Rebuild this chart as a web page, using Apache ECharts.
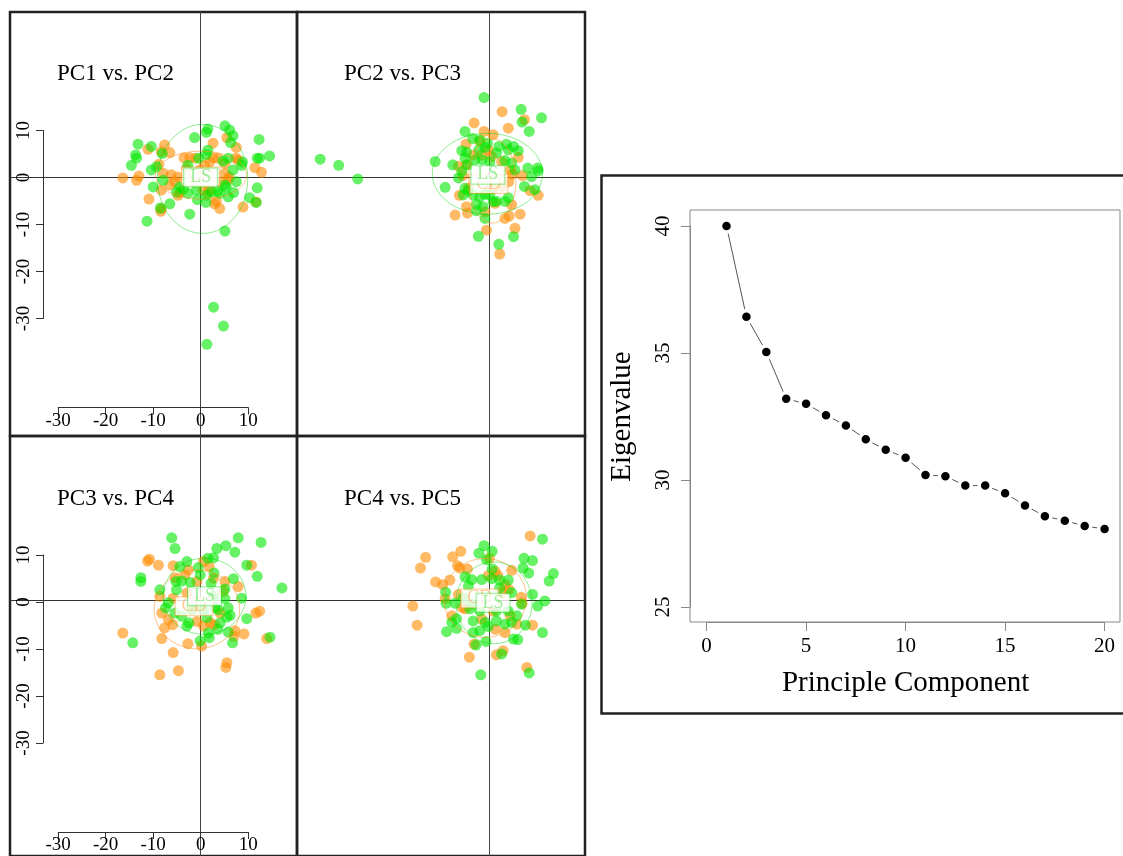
<!DOCTYPE html>
<html>
<head>
<meta charset="utf-8">
<script src="https://cdn.jsdelivr.net/npm/echarts@6/dist/echarts.min.js"></script>
<style>
html, body { margin: 0; padding: 0; background: #fff; }
#main { width: 1123px; height: 856px; }
</style>
</head>
<body>
<div id="main"></div>
<script>
// PCA scores per panel: CD group (orange) and LS group (green)
var cd1 = [[2.6,7.3],[5.5,8.5],[7.5,6.4],[-7.6,6.9],[-11.1,6.0],[-8.3,5.5],[-6.5,5.3],[-3.5,4.2],[-2.3,4.2],[-1.1,4.1],[2.6,4.2],[3.6,4.1],[5.1,3.0],[7.4,4.1],[7.9,3.7],[-8.8,2.8],[-16.4,-0.1],[-13.0,0.3],[-13.5,-0.6],[-7.9,0.9],[-6.2,0.6],[-4.8,0.1],[1.9,3.3],[0.8,2.6],[5.1,0.9],[6.0,0.1],[5.8,-0.4],[11.4,2.1],[12.8,1.1],[-6.5,-1.6],[-4.4,-3.2],[-4.8,-3.8],[-8.3,-2.7],[0.5,-2.7],[1.9,-2.5],[4.0,-0.9],[3.3,-5.1],[2.9,-5.6],[4.0,-6.6],[-10.9,-4.6],[-8.4,-7.2],[-8.3,-6.6],[8.9,-6.3],[1.5,-3.4],[-3.0,1.9],[-0.2,1.6],[-1.6,-0.9],[-5.5,-0.9],[11.6,-5.2]];
var ls1 = [[1.5,10.3],[1.2,9.6],[5.1,11.0],[6.1,10.1],[6.8,8.9],[6.3,7.4],[-1.3,8.5],[12.3,8.1],[-13.2,7.1],[-10.4,6.6],[-13.7,4.8],[-13.5,4.1],[-14.6,2.6],[-8.1,5.1],[1.5,5.8],[1.2,4.9],[-0.4,4.1],[4.7,3.5],[5.8,4.1],[8.8,3.3],[8.6,2.6],[11.9,4.1],[12.4,4.1],[14.5,4.6],[-10.4,1.6],[-9.3,2.3],[-2.7,2.6],[6.8,1.6],[-7.9,-0.6],[-10.0,-2.0],[7.5,-0.9],[-4.4,-2.0],[-5.1,-3.1],[5.4,-2.0],[5.1,-1.6],[-2.7,-3.4],[-0.9,-2.7],[3.6,-2.9],[4.0,-3.4],[2.2,-3.1],[6.9,-3.2],[5.8,-4.1],[11.9,-2.2],[-6.5,-5.6],[-0.7,-4.7],[1.1,-5.3],[10.3,-4.3],[11.7,-5.3],[-8.5,-6.5],[-2.3,-7.8],[-11.3,-9.3],[5.1,-11.4],[1.2,-3.8],[-3.6,-2.4],[2.7,-27.6],[4.8,-31.6],[1.3,-35.5]];

var cd2 = [[2.7,14.0],[7.4,12.3],[-3.2,11.6],[4.0,10.5],[-1.1,9.8],[0.8,9.1],[-4.9,7.1],[-2.0,7.7],[-0.2,5.9],[-3.4,4.8],[0.5,4.5],[6.1,4.3],[-6.5,2.4],[-4.8,2.7],[2.6,3.4],[4.4,1.6],[-5.6,0.4],[7.0,0.4],[4.9,0.7],[4.1,-0.9],[-6.3,-3.8],[-4.4,-2.3],[8.6,-2.8],[10.3,-3.8],[4.7,-5.8],[-4.8,-6.2],[-7.2,-8.0],[-4.6,-7.6],[-0.9,-7.3],[1.2,-5.5],[3.3,-8.7],[4.2,-8.2],[6.5,-7.8],[5.4,-10.8],[-0.6,-11.2],[2.2,-16.3],[0.8,-2.3],[2.6,-1.9],[-1.6,4.8]];
var ls2 = [[-1.1,17.0],[6.7,14.5],[6.9,11.8],[11.0,12.7],[8.4,9.8],[-5.1,9.8],[-3.5,8.3],[-2.0,8.0],[-0.4,7.3],[-0.9,6.4],[-2.2,5.9],[-5.8,5.7],[-4.8,5.4],[2.0,6.6],[3.6,7.1],[5.1,6.6],[6.1,5.7],[4.0,5.9],[1.5,5.2],[-5.1,4.1],[-3.0,3.8],[-1.5,3.8],[0.1,3.4],[3.3,3.6],[4.7,3.1],[-11.4,3.4],[-7.7,2.7],[-4.6,2.7],[-5.8,1.3],[-6.5,-0.1],[5.4,1.6],[8.1,2.0],[10.2,2.0],[10.3,1.4],[8.9,0.2],[-9.3,-2.1],[7.4,-1.9],[9.6,-2.6],[-5.1,-2.3],[-4.4,-2.8],[-3.4,-3.7],[-2.0,-4.1],[-0.9,-3.6],[0.1,-3.7],[1.5,-5.1],[4.0,-4.3],[3.3,-5.1],[-2.7,-5.7],[-1.3,-6.2],[-2.7,-7.1],[-0.9,-8.7],[0.8,-5.1],[-2.3,-12.5],[5.1,-12.6],[2.0,-14.2],[-5.5,-3.7],[-35.6,3.9],[-31.7,2.6],[-27.7,-0.3]];

var cd3 = [[-10.8,8.8],[-11.2,8.4],[-8.9,7.5],[-5.8,7.4],[-2.6,6.5],[0.6,8.3],[1.8,7.2],[10.7,7.5],[2.7,4.7],[5.1,4.0],[-5.4,4.8],[-8.6,0.8],[-5.8,0.4],[-2.9,1.5],[-0.8,4.0],[4.8,1.9],[7.9,2.9],[-8.2,-2.8],[-6.8,-4.2],[-7.6,-6.0],[-5.9,-5.3],[-0.8,-4.6],[0.6,-5.6],[-1.9,-1.6],[7.2,-6.6],[7.0,-7.8],[9.1,-7.3],[11.6,-2.8],[12.4,-2.4],[13.9,-8.3],[-16.4,-7.1],[-8.2,-8.3],[-2.7,-9.4],[0.2,-9.9],[-5.8,-11.3],[-4.7,-15.2],[-8.6,-16.1],[5.5,-13.5],[5.3,-14.5],[2.8,-5.3],[4.1,-2.8],[-0.5,-1.4],[-3.3,5.4],[2.0,-4.9]];
var ls3 = [[-6.1,13.4],[-5.4,11.1],[7.9,13.4],[5.3,11.7],[3.4,11.1],[7.2,10.3],[12.7,12.4],[1.5,9.0],[2.7,9.1],[-2.9,8.3],[-0.5,7.0],[9.7,7.5],[11.9,5.1],[-12.6,4.8],[-12.6,4.0],[-4.4,7.2],[2.8,5.8],[-0.1,5.4],[-4.0,4.1],[-2.2,3.8],[-5.2,4.0],[-8.6,2.2],[-5.1,2.2],[2.2,3.6],[6.9,4.6],[5.1,2.4],[17.1,2.6],[8.6,0.4],[-6.8,-0.6],[-7.4,-1.7],[-5.4,-2.8],[-4.0,-3.5],[-1.9,-2.1],[0.6,-2.1],[3.0,-1.6],[3.7,-2.1],[5.8,-1.7],[6.2,-3.3],[5.5,-3.7],[1.3,-3.8],[-2.5,-4.9],[-2.9,-5.6],[4.1,-4.9],[3.6,-6.3],[1.6,-7.1],[1.8,-8.1],[-0.1,-8.8],[5.8,-6.9],[6.7,-9.2],[9.7,-4.0],[14.6,-8.0],[-14.3,-9.2],[2.7,0.8],[5.1,0.3]];

var cd4 = [[8.6,13.8],[-6.0,10.5],[-7.7,9.3],[-13.4,9.2],[-14.5,6.9],[-6.7,7.4],[-4.6,6.7],[-6.2,6.9],[0.0,9.0],[1.2,6.2],[4.7,6.4],[1.8,5.3],[-11.3,3.9],[-9.8,3.3],[-8.3,4.3],[-0.2,5.3],[3.3,3.3],[4.1,2.3],[6.7,0.6],[-9.3,0.3],[-5.1,-1.9],[-16.1,-1.3],[-15.2,-5.4],[-6.5,1.2],[4.4,-3.4],[5.8,-5.2],[9.1,-5.4],[1.3,-6.3],[0.8,-2.4],[-1.6,-4.1],[-5.7,-1.6],[-3.2,-9.5],[1.5,-11.8],[2.9,-10.9],[-4.2,-12.3],[7.9,-14.5],[3.3,-7.0],[6.9,-0.7],[-7.9,-3.4],[2.6,1.6]];
var ls4 = [[11.2,13.1],[-1.1,11.7],[0.6,10.5],[-2.2,10.1],[-0.6,8.7],[7.3,9.0],[9.1,8.5],[7.1,6.9],[8.3,5.8],[13.5,5.7],[12.6,4.1],[-5.1,5.0],[-3.7,4.4],[-1.6,4.4],[0.5,4.6],[2.2,4.3],[4.0,4.3],[-4.4,3.0],[-9.2,1.7],[-5.5,0.5],[-9.1,-0.7],[-7.2,-0.7],[2.2,2.6],[4.7,1.6],[9.1,1.2],[11.7,-0.2],[10.2,-1.3],[6.8,-0.9],[-4.1,-1.9],[-2.0,-2.4],[1.5,-2.4],[4.0,-2.4],[5.8,-3.4],[-6.9,-4.0],[-7.9,-4.8],[-9.0,-6.8],[-6.9,-6.1],[-3.4,-4.5],[-0.9,-4.8],[1.5,-4.5],[3.3,-5.2],[4.7,-4.8],[-2.0,-6.6],[-0.2,-5.7],[-3.4,-7.0],[-2.8,-9.7],[-0.7,-8.9],[5.1,-8.4],[6.0,-8.5],[7.6,-5.4],[11.2,-7.0],[2.6,-11.6],[-1.8,-16.1],[8.4,-15.7],[-3.7,-0.9],[0.6,6.7]];

var panelTitles = ['PC1 vs. PC2', 'PC2 vs. PC3', 'PC3 vs. PC4', 'PC4 vs. PC5'];
var cdScores = [cd1, cd2, cd3, cd4];
var lsScores = [ls1, ls2, ls3, ls4];
// group ellipses: [centre x, centre y, radius x, radius y]
var cdEllipse = [[0.1, 0.5, 9.6, 5.1], [0.6, -0.7, 5.0, 9.0], [-0.8, -2.0, 9.0, 8.5], [-0.9, 0.45, 8.7, 8.5]];
var lsEllipse = [[0.4, -0.3, 9.5, 11.6], [-0.4, 0.8, 11.6, 8.6], [0.8, 0.8, 8.7, 8.2], [1.0, -0.6, 8.0, 8.8]];
var cdLabelAt = [[0, 0.2], [-0.1, -1.4], [-1.4, -1.35], [-2.0, 0.35]];
var lsLabelAt = [[0, 0], [-0.3, 0.6], [0.8, 0.8], [0.8, -0.6]];

// scree plot
var componentNo = [1,2,3,4,5,6,7,8,9,10,11,12,13,14,15,16,17,18,19,20];
var eigenvalues = [40.0,36.43,35.04,33.2,33.0,32.55,32.15,31.6,31.19,30.88,30.2,30.15,29.78,29.78,29.48,29.0,28.57,28.4,28.19,28.07];

var FONT = 'Liberation Serif';
var ORANGE = 'rgba(255,140,0,0.6)';
var GREEN = 'rgba(0,232,0,0.6)';
var ORANGE_LINE = 'rgba(255,150,40,0.55)';
var GREEN_LINE = 'rgba(0,215,0,0.45)';

var sx = 4.75, sy = 4.7;   // pixels per score unit
var panels = [
    { box: [10, 12, 297, 436],  o: [200.7, 177.5] },
    { box: [297, 12, 585, 436], o: [489.3, 177.5] },
    { box: [10, 436, 297, 861], o: [200.7, 602] },
    { box: [297, 436, 585, 861], o: [489.3, 602] }
];

function ellipsePoints(e) {
    var pts = [];
    for (var k = 0; k <= 90; k++) {
        var t = k / 90 * 2 * Math.PI;
        pts.push([e[0] + e[2] * Math.cos(t), e[1] + e[3] * Math.sin(t)]);
    }
    return pts;
}

function groupLabel(txt, col, at, idx) {
    return {
        type: 'scatter', xAxisIndex: idx, yAxisIndex: idx, z: 10,
        symbolSize: 1, itemStyle: { color: 'rgba(0,0,0,0)' },
        data: [at],
        label: {
            show: true, position: 'inside', formatter: txt,
            fontFamily: FONT, fontSize: 18, lineHeight: 17, color: col,
            backgroundColor: '#fff', borderColor: col, borderWidth: 1,
            padding: [1, 6, 0, 6]
        }
    };
}

var grids = [], xAxes = [], yAxes = [], series = [], titles = [];

panels.forEach(function (p, i) {
    var b = p.box, o = p.o;
    grids.push({ left: b[0], top: b[1], width: b[2] - b[0], height: b[3] - b[1],
        show: true, borderColor: '#222', borderWidth: 2.5, backgroundColor: 'transparent' });
    xAxes.push({ gridIndex: i, type: 'value', min: (b[0] - o[0]) / sx, max: (b[2] - o[0]) / sx,
        axisLine: { onZero: true, lineStyle: { color: '#333', width: 1 } },
        axisTick: { show: false }, axisLabel: { show: false }, splitLine: { show: false } });
    yAxes.push({ gridIndex: i, type: 'value', min: (o[1] - b[3]) / sy, max: (o[1] - b[1]) / sy,
        axisLine: { onZero: true, lineStyle: { color: '#444', width: 1 } },
        axisTick: { show: false }, axisLabel: { show: false }, splitLine: { show: false } });

    series.push({ type: 'scatter', xAxisIndex: i, yAxisIndex: i, symbolSize: 11,
        itemStyle: { color: ORANGE, opacity: 1 }, data: cdScores[i] });
    series.push({ type: 'scatter', xAxisIndex: i, yAxisIndex: i, symbolSize: 11,
        itemStyle: { color: GREEN, opacity: 1 }, data: lsScores[i] });
    series.push({ type: 'line', xAxisIndex: i, yAxisIndex: i, showSymbol: false, z: 5,
        lineStyle: { color: ORANGE_LINE, width: 1 }, data: ellipsePoints(cdEllipse[i]) });
    series.push({ type: 'line', xAxisIndex: i, yAxisIndex: i, showSymbol: false, z: 5,
        lineStyle: { color: GREEN_LINE, width: 1 }, data: ellipsePoints(lsEllipse[i]) });
    series.push(groupLabel('CD', 'rgba(255,150,40,0.6)', cdLabelAt[i], i));
    series.push(groupLabel('LS', 'rgba(0,215,0,0.5)', lsLabelAt[i], i));

    titles.push({ text: panelTitles[i], left: b[0] + 47, top: o[1] - 115, padding: 0,
        textStyle: { fontFamily: FONT, fontSize: 23, fontWeight: 'normal', color: '#000' } });
});

// R-style score axes on the left-hand panels
[0, 2].forEach(function (pi) {
    var o = panels[pi].o;
    var gi = grids.length;
    grids.push({ left: o[0] - 30 * sx, top: o[1] - 10 * sy, width: 40 * sx, height: 40 * sy });
    xAxes.push({ gridIndex: gi, type: 'value', min: -30, max: 10, interval: 10, position: 'bottom',
        offset: 89,
        axisLine: { onZero: false, lineStyle: { color: '#333', width: 1 } },
        axisTick: { length: 7, lineStyle: { color: '#333' } },
        axisLabel: { fontFamily: FONT, fontSize: 19, color: '#000', margin: 4 },
        splitLine: { show: false } });
    yAxes.push({ gridIndex: gi, type: 'value', min: -30, max: 10, interval: 10, position: 'left',
        offset: o[0] - 30 * sx - 43,
        axisLine: { onZero: false, lineStyle: { color: '#333', width: 1 } },
        axisTick: { length: 7, lineStyle: { color: '#333' } },
        axisLabel: { fontFamily: FONT, fontSize: 19, color: '#000', rotate: 90, margin: 9 },
        splitLine: { show: false } });
});

// scree plot box
var boxIdx = grids.length;
grids.push({ left: 690, top: 210, width: 430, height: 412, show: true,
    borderColor: '#888', borderWidth: 1, backgroundColor: 'transparent' });
xAxes.push({ gridIndex: boxIdx, type: 'value', min: -0.8, max: 20.8, show: false });
yAxes.push({ gridIndex: boxIdx, type: 'value', min: 24.4, max: 40.6, show: false });

var scrIdx = grids.length;
grids.push({ left: 706.6, top: 226, width: 398, height: 381 });
xAxes.push({ gridIndex: scrIdx, type: 'value', min: 0, max: 20, interval: 5, offset: 15,
    name: 'Principle Component', nameLocation: 'middle', nameGap: 47,
    nameTextStyle: { fontFamily: FONT, fontSize: 29, color: '#000' },
    axisLine: { onZero: false, lineStyle: { color: '#888', width: 1 } },
    axisTick: { length: 9, lineStyle: { color: '#888' } },
    axisLabel: { fontFamily: FONT, fontSize: 21, color: '#000', margin: 14 },
    splitLine: { show: false } });
yAxes.push({ gridIndex: scrIdx, type: 'value', min: 25, max: 40, interval: 5, offset: 16.6,
    name: 'Eigenvalue', nameLocation: 'middle', nameGap: 53, nameRotate: 90,
    nameTextStyle: { fontFamily: FONT, fontSize: 29, color: '#000' },
    axisLine: { onZero: false, lineStyle: { color: '#888', width: 1 } },
    axisTick: { length: 9, lineStyle: { color: '#888' } },
    axisLabel: { fontFamily: FONT, fontSize: 21, color: '#000', rotate: 90, margin: 16 },
    splitLine: { show: false } });

series.push({
    type: 'line', xAxisIndex: scrIdx, yAxisIndex: scrIdx,
    symbol: 'circle', symbolSize: 12,
    itemStyle: { color: '#000', borderColor: '#fff', borderWidth: 3.5 },
    lineStyle: { color: '#555', width: 1 },
    data: componentNo.map(function (c, k) { return [c, eigenvalues[k]]; })
});

var myChart = echarts.init(document.getElementById('main'));
myChart.setOption({
    animation: false,
    backgroundColor: '#fff',
    title: titles,
    grid: grids,
    xAxis: xAxes,
    yAxis: yAxes,
    series: series,
    graphic: [{
        type: 'rect', left: 599, top: 173, z: 100,
        shape: { width: 540, height: 538 },
        style: { fill: 'none', stroke: '#222', lineWidth: 2.5 }
    }]
});
window.addEventListener('resize', function () { myChart.resize(); });
</script>
</body>
</html>
